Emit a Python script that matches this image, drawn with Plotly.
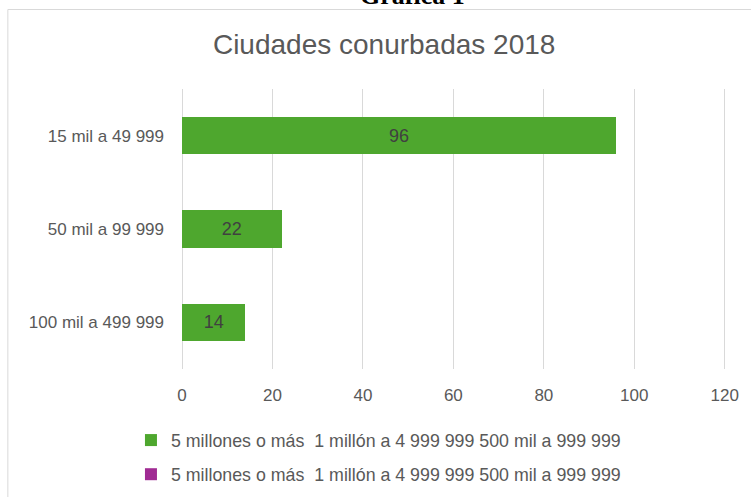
import plotly.graph_objects as go

categories = ["15 mil a 49 999", "50 mil a 99 999", "100 mil a 499 999"]
values_green = [96, 22, 14]
values_purple = [None, None, None]
legend_label = "5 millones o más\u00a0 1 millón a 4 999 999 500 mil a 999 999"
x_ticks = [0, 20, 40, 60, 80, 100, 120]
title_text = "Ciudades conurbadas 2018"
header_text = "Gráfica 1"

FONT = "Liberation Sans, Arial, sans-serif"
GREY = "#595959"
GRID = "#d9d9d9"

X_MAX = 120.5
UNIT = 542.3 / 120
ML, MT, MB = 182, 89, 128
W, H = 751, 497
PW = UNIT * X_MAX
MR = W - ML - PW
PH = H - MT - MB


def px_x(p):
    return (p - ML) / PW


def px_y(p):
    return (H - MB - p) / PH


fig = go.Figure()
fig.add_trace(go.Bar(
    y=categories, x=values_green, orientation="h",
    name=legend_label, legendgroup="a",
    marker=dict(color="#4EA72E", line=dict(width=0)),
    text=[str(v) for v in values_green], textposition="inside",
    insidetextanchor="middle", constraintext="none",
    textfont=dict(family=FONT, size=18, color="#404040"),
    showlegend=True,
))
fig.add_trace(go.Bar(
    y=categories, x=values_purple, orientation="h",
    name=legend_label, legendgroup="b",
    marker=dict(color="#A02B93", line=dict(width=0)),
    showlegend=True,
))

fig.update_layout(
    width=W, height=H,
    margin=dict(l=ML, r=MR, t=MT, b=MB, autoexpand=False),
    paper_bgcolor="white", plot_bgcolor="white",
    barmode="stack", bargap=0.6,
    title=dict(text=title_text, x=px_x(384), xref="paper", xanchor="center",
               y=1 - 44 / H, yref="container", yanchor="middle",
               font=dict(family=FONT, size=28, color=GREY)),
    legend=dict(orientation="v", x=px_x(131), xanchor="left",
                y=px_y(422), yanchor="top", tracegroupgap=8,
                font=dict(family=FONT, size=17.8, color=GREY),
                bgcolor="rgba(0,0,0,0)", traceorder="grouped"),
    xaxis=dict(range=[0, X_MAX], tickvals=x_ticks, showgrid=True,
               gridcolor=GRID, gridwidth=1, zeroline=True,
               zerolinecolor=GRID, zerolinewidth=1, showline=False,
               ticks="", ticklabelstandoff=14,
               tickfont=dict(family=FONT, size=17, color=GREY)),
    yaxis=dict(categoryorder="array", categoryarray=categories,
               autorange="reversed", showgrid=False, zeroline=False,
               showline=False, ticks="", ticklabelstandoff=17,
               tickfont=dict(family=FONT, size=17, color=GREY)),
    showlegend=True,
)

fig.add_shape(type="rect", xref="paper", yref="paper",
              x0=px_x(8), x1=px_x(770), y0=px_y(520), y1=px_y(9.5),
              line=dict(color=GRID, width=1), fillcolor="rgba(0,0,0,0)",
              layer="below")

fig.add_annotation(text="<b>" + header_text + "</b>", xref="paper", yref="paper",
                   x=px_x(412), y=px_y(12), xanchor="center", yanchor="bottom",
                   showarrow=False,
                   font=dict(family="Liberation Serif, Times New Roman, serif",
                             size=26, color="black"))

fig.write_html("out.html")
